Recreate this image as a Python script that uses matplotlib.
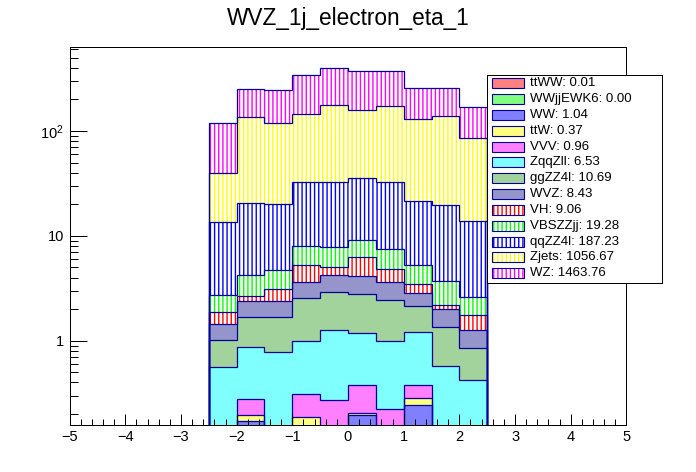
import numpy as np
import matplotlib
matplotlib.use('Agg')
import matplotlib.pyplot as plt
from matplotlib.patches import Rectangle
from matplotlib.ticker import MultipleLocator, FixedLocator, LogLocator, NullFormatter

plt.rcParams['font.family'] = ['Liberation Sans', 'DejaVu Sans']
plt.rcParams['hatch.linewidth'] = 1.0

# 10 bins of 0.5 from -2.5 to 2.5
edges = np.linspace(-2.5, 2.5, 11)

# per-sample bin contents, bottom of the stack first
names = ['ttWW', 'WWjjEWK6', 'WW', 'ttW', 'VVV', 'ZqqZll', 'ggZZ4l', 'WVZ',
         'VH', 'VBSZZjj', 'qqZZ4l', 'Zjets', 'WZ']
yields = [0.01, 0.00, 1.04, 0.37, 0.96, 6.53, 10.69, 8.43, 9.06, 19.28, 187.23, 1056.67, 1463.76]

ttWW = [0.0, 0.0, 0.0, 0.0, 0.0, 0.0, 0.01, 0.0, 0.0, 0.0]
WWjjEWK6 = [0.0] * 10
WW = [0.05, 0.17, 0.05, 0.0, 0.1, 0.197, 0.05, 0.245, 0.1, 0.08]
ttW = [0.0, 0.026, 0.0, 0.189, 0.05, 0.008, 0.05, 0.042, 0.0, 0.0]
VVV = [0.06, 0.083, 0.06, 0.123, 0.123, 0.175, 0.114, 0.093, 0.05, 0.05]
ZqqZll = [0.455, 0.598, 0.675, 0.673, 0.997, 0.81, 0.771, 0.84, 0.427, 0.294]
ggZZ4l = [0.455, 0.823, 0.915, 1.585, 1.64, 1.62, 1.465, 0.94, 0.783, 0.433]
WVZ = [0.43, 0.67, 0.71, 1.09, 1.36, 1.30, 1.15, 0.71, 0.63, 0.413]
VH = [0.44, 0.32, 0.73, 1.66, 0.78, 2.23, 1.22, 0.63, 0.22, 0.49]
VBSZZjj = [0.86, 1.58, 1.63, 2.76, 2.78, 2.80, 2.74, 1.82, 1.53, 0.87]
qqZZ4l = [10.95, 16.53, 15.53, 24.92, 24.47, 26.16, 24.73, 16.38, 16.16, 11.37]
Zjets = [26.5, 114.2, 97.7, 112.0, 146.7, 121.7, 141.7, 107.3, 118.1, 71.0]
WZ = [77.8, 115.0, 126.0, 195.0, 217.0, 216.0, 199.0, 126.0, 117.0, 83.0]

hists = [ttWW, WWjjEWK6, WW, ttW, VVV, ZqqZll, ggZZ4l, WVZ, VH, VBSZZjj, qqZZ4l, Zjets, WZ]

colors = ['#ff0000', '#00ff00', '#0000ff', '#ffff00', '#ff00ff', '#00ffff', '#48a838',
          '#2a2a99', '#ff0000', '#00ff00', '#0000ff', '#ffff00', '#ff00ff']
styles = ['checker'] * 8 + ['vlines'] * 5
line_col = '#000099'


def blend(c):
    rgb = np.array(matplotlib.colors.to_rgb(c))
    return tuple(0.5 * rgb + 0.5)


fig = plt.figure(figsize=(6.96, 4.72), dpi=100)
ax = fig.add_axes([0.1, 0.1, 0.8, 0.8])

prev = np.zeros(10)
cums = []
for h, col, st in zip(hists, colors, styles):
    cum = prev + np.array(h)
    if st == 'checker':
        ax.stairs(cum, edges, baseline=prev, fill=True, facecolor=blend(col), linewidth=0)
    else:
        ax.stairs(cum, edges, baseline=prev, fill=True, facecolor='white',
                  edgecolor=col, hatch='||||', linewidth=0)
    cums.append(cum)
    prev = cum

for cum in cums[::-1]:
    ax.stairs(cum, edges, baseline=1e-3, fill=False, color=line_col, linewidth=0.9)

ax.set_xlim(-5, 5)
ax.set_yscale('log')
ax.set_ylim(0.158, 630)
ax.xaxis.set_major_locator(MultipleLocator(1))
ax.xaxis.set_minor_locator(MultipleLocator(0.2))
ax.yaxis.set_major_locator(FixedLocator([1, 10, 100]))
ax.yaxis.set_minor_locator(LogLocator(subs=np.arange(2, 10)))
ax.yaxis.set_minor_formatter(NullFormatter())
ax.set_yticklabels(['1', '10', r'$\mathregular{10^{2}}$'])
ax.tick_params(which='both', direction='in', top=False, right=False, width=0.72,
               labelsize=10.5, pad=4)
ax.xaxis.set_tick_params(which='major', length=8)
ax.xaxis.set_tick_params(which='minor', length=4)
ax.yaxis.set_tick_params(which='major', length=12)
ax.yaxis.set_tick_params(which='minor', length=6)
for s in ax.spines.values():
    s.set_linewidth(0.72)

fig.text(0.5, 1 - 18 / 472, 'WVZ_1j_electron_eta_1', ha='center', va='center', fontsize=16.3)

# legend box, drawn in pixel units
lx0, ly0, lx1, ly1 = 487, 75, 662, 283
leg = fig.add_axes([lx0 / 696, 1 - ly1 / 472, (lx1 - lx0) / 696, (ly1 - ly0) / 472])
leg.set_xlim(0, lx1 - lx0)
leg.set_ylim(ly1 - ly0, 0)
leg.set_xticks([])
leg.set_yticks([])
for s in leg.spines.values():
    s.set_linewidth(0.72)

for i, (name, y, col, st) in enumerate(zip(names, yields, colors, styles)):
    cy = 8.3 + i * 15.83
    if st == 'checker':
        leg.add_patch(Rectangle((5, cy - 5), 32, 10, facecolor=blend(col), linewidth=0))
    else:
        leg.add_patch(Rectangle((5, cy - 5), 32, 10, facecolor='white', edgecolor=col,
                                hatch='||||', linewidth=0))
    leg.add_patch(Rectangle((5, cy - 5), 32, 10, fill=False, edgecolor=line_col, linewidth=0.8))
    leg.text(43, cy, f'{name}: {y:.2f}', va='center', ha='left', fontsize=9.5)

fig.savefig('out.png', dpi=100)
